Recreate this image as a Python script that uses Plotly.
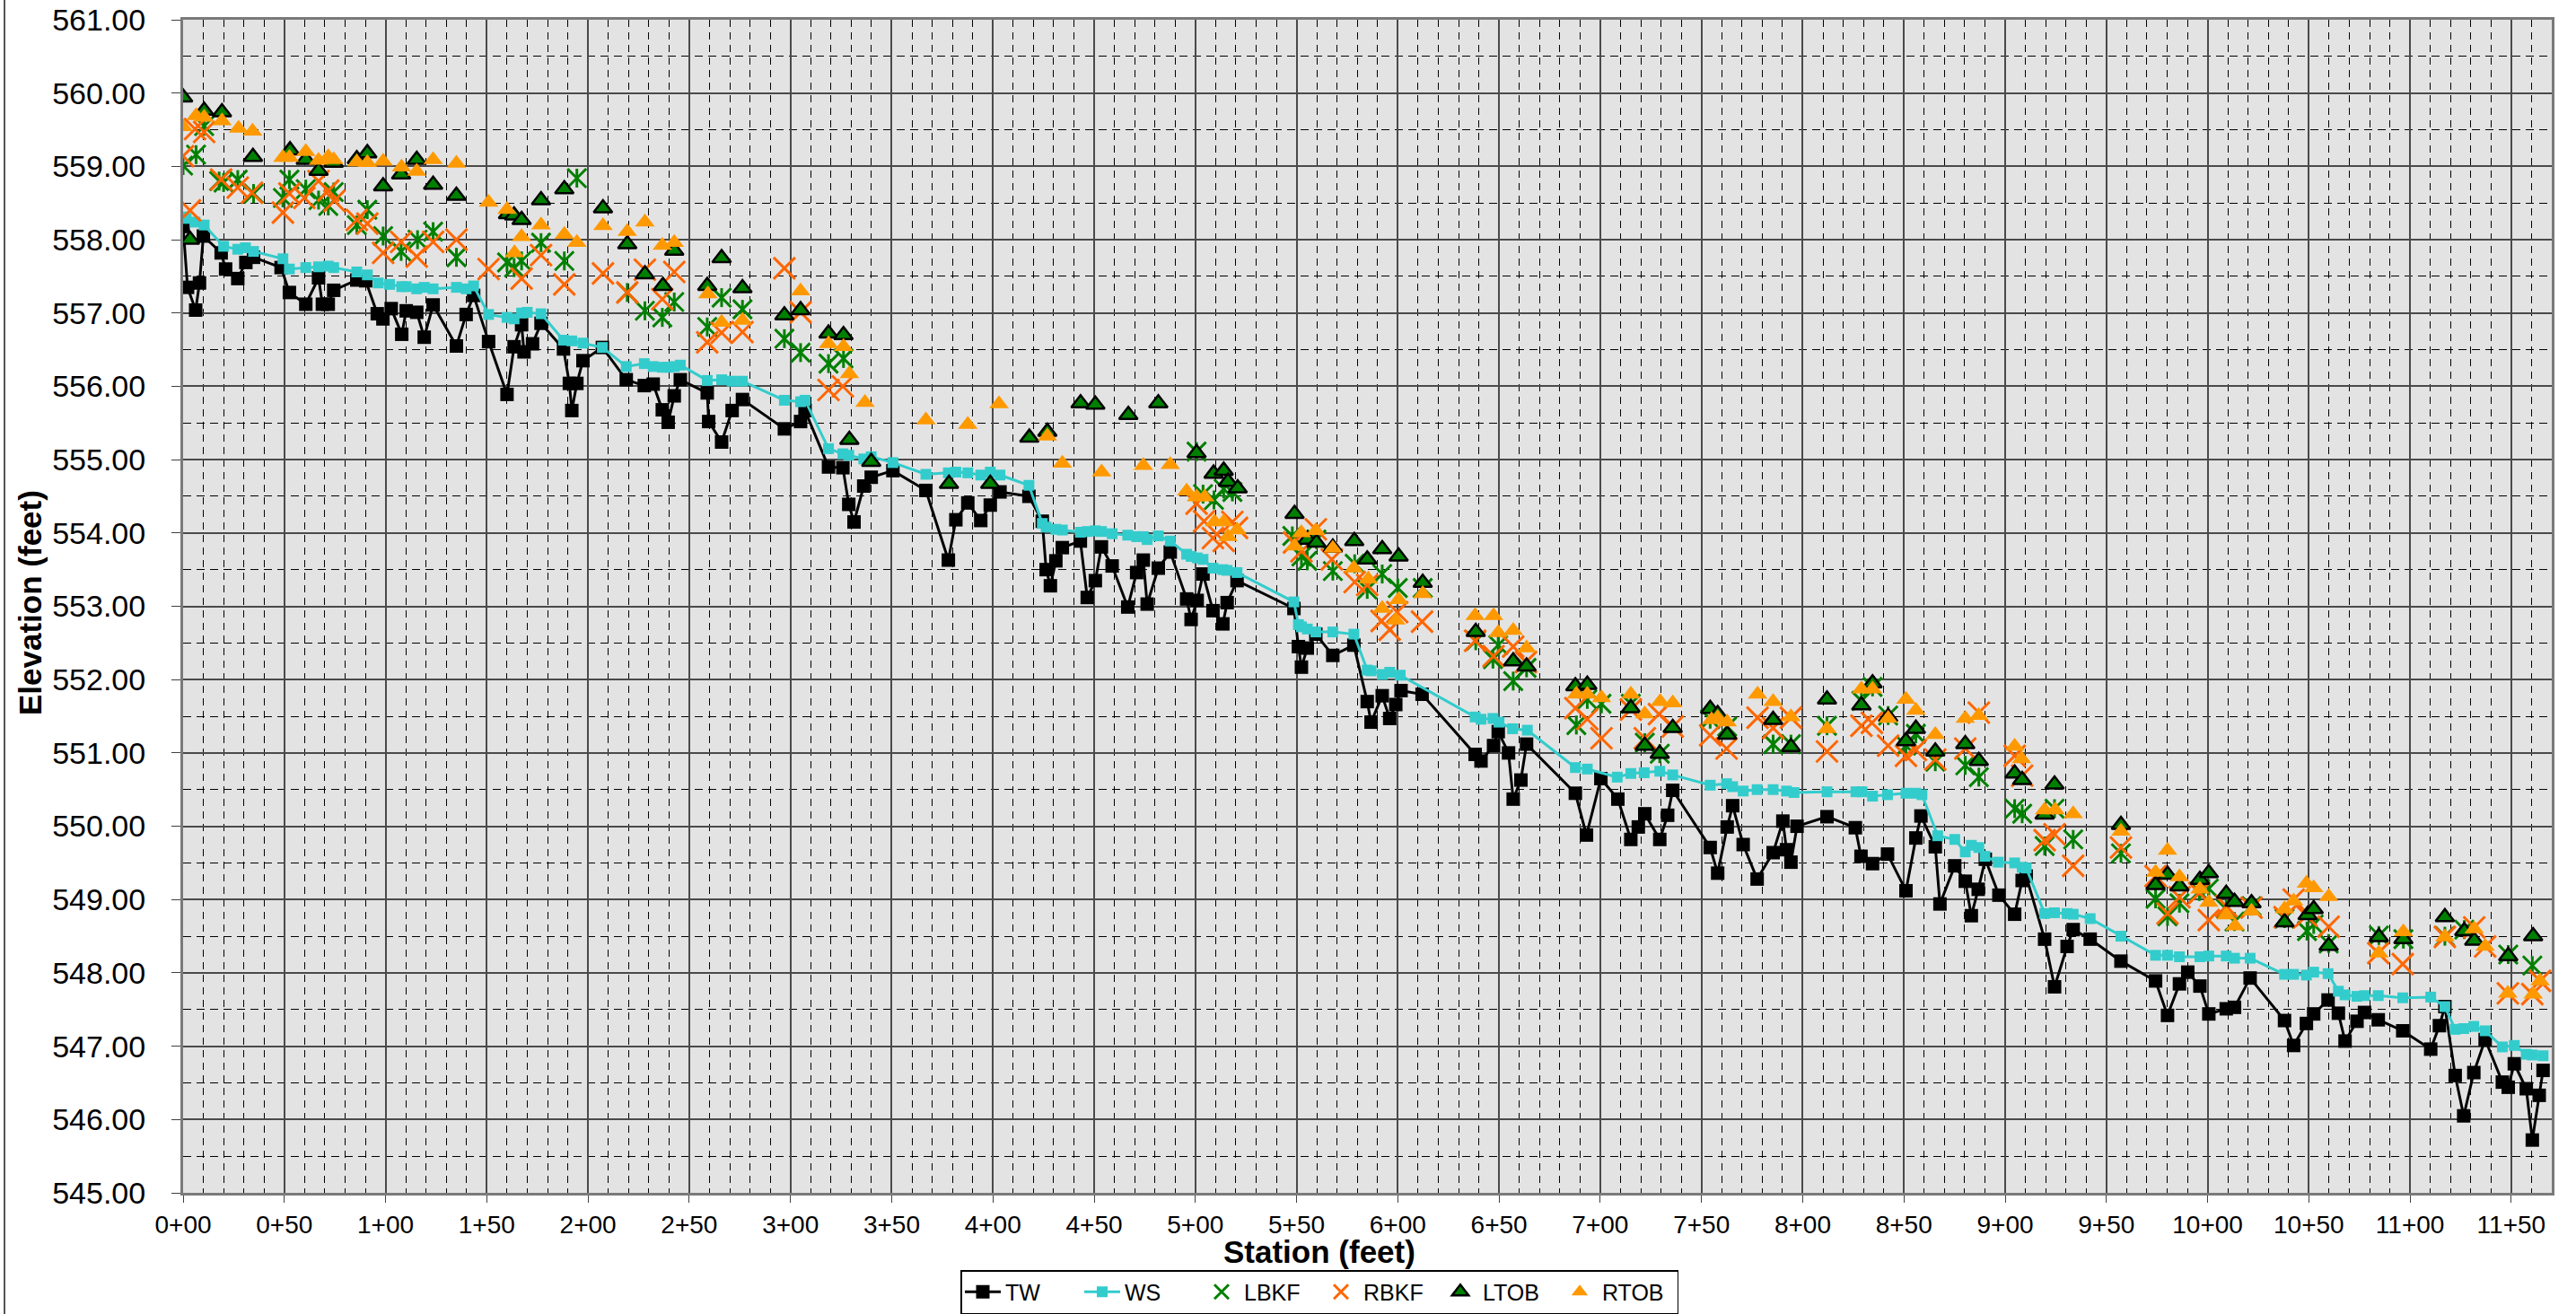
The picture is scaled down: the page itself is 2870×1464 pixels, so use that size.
import plotly.graph_objects as go

# ---------------- data (station in feet, elevation in feet) ----------------
tw_sta = [0, 2.2, 6.2, 8.1, 10, 18.8, 21, 27, 31, 34.8, 48.4, 52.5, 60.6, 66.9, 68.8, 71.7, 74.4, 85.8, 90.2, 95.9,
          98.7, 102.8, 108, 110.2, 115.4, 119.1, 123.5, 135, 139.8, 143.5, 150.9, 160, 163.5, 167.2, 168.4, 172.6,
          176.8, 187.9, 190.8, 192, 194.5, 197.5, 207.1, 218.9, 227.8, 232.2, 236.7, 239.6, 242.6, 245.6, 258.9,
          259.6, 266, 271.2, 276.3, 297, 305, 307.2, 318.8, 325.9, 328.8, 331.4, 336.2, 339.9, 350.6, 366.9, 378,
          381.7, 387.6, 394, 398.7, 403.5, 417.8, 424.4, 426.3, 428.4, 431.1, 434.3, 443.2, 446.6, 450.6, 453.6,
          458.9, 466.6, 471, 474.3, 476.2, 481.7, 487.6, 495.7, 497.9, 500.9, 503.8, 508.7, 513.6, 515.7, 520.6,
          548.7, 550.9, 552.4, 555.3, 559.5, 567.9, 578.3, 584.9, 586.8, 592.3, 596, 599, 601.6, 612, 638.2, 641.1,
          647.3, 649.6, 654.7, 657, 660.8, 663.6, 687.7, 693.2, 700.3, 708.7, 715.1, 718.8, 722, 729.4, 733.3,
          735.8, 754.3, 758, 762.7, 765.4, 770.6, 777.5, 785.4, 790.2, 792, 794.2, 797.2, 812, 826, 828.8, 834.5,
          841.9, 851, 855.9, 858.4, 865.5, 867.8, 875.1, 880.3, 883.3, 886.7, 890.2, 896.9, 904.7, 908.4, 910.4,
          919.5, 924.4, 930.6, 933.6, 942, 957.2, 974.3, 980.2, 986.1, 990.2, 996.2, 1000.6, 1009.2, 1013.3, 1021,
          1038, 1042.5, 1048.8, 1052.4, 1059.5, 1064.6, 1067.9, 1073.8, 1077.5, 1084.3, 1096.4, 1110.2, 1114.5,
          1117.2, 1122.3, 1126.5, 1131.5, 1137.1, 1145.6, 1148.5, 1151.5, 1157.4, 1160.4, 1163.8, 1165.7]
tw_elev = [558.18, 557.35, 557.04, 557.41, 558.05, 557.82, 557.60, 557.47, 557.69, 557.76, 557.62, 557.28, 557.12,
           557.48, 557.12, 557.12, 557.31, 557.45, 557.44, 556.99, 556.92, 557.06, 556.71, 557.03, 557.01, 556.67,
           557.11, 556.55, 556.98, 557.24, 556.61, 555.89, 556.54, 556.84, 556.47, 556.58, 556.86, 556.51, 556.04,
           555.67, 556.04, 556.35, 556.53, 556.09, 556.01, 556.03, 555.68, 555.51, 555.87, 556.09, 555.91, 555.52,
           555.24, 555.67, 555.82, 555.42, 555.52, 555.67, 554.90, 554.89, 554.39, 554.15, 554.64, 554.76, 554.85,
           554.58, 553.63, 554.18, 554.41, 554.17, 554.38, 554.56, 554.50, 554.16, 553.50, 553.28, 553.62, 553.80,
           553.89, 553.12, 553.35, 553.81, 553.55, 552.99, 553.46, 553.63, 553.03, 553.52, 553.74, 553.10, 552.82,
           553.08, 553.44, 552.94, 552.76, 553.05, 553.35, 552.97, 552.45, 552.17, 552.43, 552.62, 552.33, 552.47,
           551.70, 551.42, 551.78, 551.47, 551.66, 551.85, 551.80, 550.98, 550.89, 551.10, 551.29, 551.00, 550.37,
           550.63, 551.12, 550.45, 549.88, 550.65, 550.37, 549.82, 549.99, 550.17, 549.82, 550.15, 550.49, 549.71,
           549.36, 549.99, 550.28, 549.75, 549.28, 549.64, 550.07, 549.68, 549.51, 550.00, 550.13, 549.98, 549.59,
           549.49, 549.62, 549.12, 549.84, 550.14, 549.72, 548.94, 549.46, 549.25, 548.78, 549.14, 549.55, 549.06,
           548.80, 549.26, 549.32, 548.46, 547.81, 548.36, 548.59, 548.46, 548.16, 547.89, 547.42, 547.85, 548.01,
           547.82, 547.44, 547.51, 547.53, 547.93, 547.35, 547.01, 547.31, 547.44, 547.63, 547.45, 547.07, 547.34,
           547.46, 547.36, 547.21, 546.96, 547.28, 547.54, 546.60, 546.05, 546.64, 547.09, 546.51, 546.44, 546.76,
           546.42, 545.72, 546.33, 546.67]

ws_sta = [0, 1.5, 5.9, 10.4, 20, 27, 30.8, 34.8, 49.3, 52.5, 60.6, 66.9, 71.7, 74.4, 85.8, 91, 96.4, 102, 108, 110.2,
          115.4, 119.1, 123.5, 135, 139.8, 143.5, 150.9, 160, 163.5, 167.2, 170, 176.8, 187.9, 192, 197.5, 207.1,
          218.9, 227.8, 232.2, 236.7, 239.6, 242.6, 245.6, 258.9, 266, 271.2, 276.3, 297, 305, 307.2, 318.8, 325.9,
          328.8, 336.2, 339.9, 350.6, 366.9, 378, 381.7, 387.6, 394, 398.7, 403.5, 417.8, 424.4, 426.3, 431.1,
          434.3, 443.2, 446.6, 450.6, 453.6, 458.9, 466.6, 471, 474.3, 476.2, 481.7, 487.6, 495.7, 497.9, 500.9,
          503.8, 508.7, 513.6, 515.7, 520.6, 548.7, 550.9, 552.4, 555.3, 559.5, 567.9, 578.3, 584.9, 586.8, 592.3,
          596, 601.2, 638.2, 641.1, 647, 650, 656.7, 664, 687.7, 693.6, 708.4, 715.1, 721.7, 729.4, 735.8, 754.3,
          762.4, 765.4, 770.6, 777.5, 785.4, 792, 795.7, 812, 826.3, 829.3, 834.5, 841.9, 851, 855.9, 858.9, 866.7,
          875.1, 880.3, 883.3, 887, 890, 896.6, 904.7, 908.4, 910.4, 919.5, 924.4, 930.6, 933.6, 942, 957.2, 974.3,
          980.2, 986.1, 996.2, 1000.6, 1009.2, 1013.3, 1021, 1038, 1042.5, 1048.8, 1052.4, 1059.5, 1064.6, 1067.9,
          1073.8, 1077.5, 1084.3, 1096.4, 1110.2, 1117.2, 1122.3, 1126.5, 1131.5, 1137.1, 1145.6, 1151.5, 1157.4,
          1160.4, 1165.7]
ws_elev = [558.31, 558.29, 558.24, 558.20, 557.91, 557.87, 557.89, 557.84, 557.74, 557.60, 557.62, 557.63, 557.64,
           557.62, 557.56, 557.52, 557.41, 557.39, 557.36, 557.36, 557.33, 557.35, 557.33, 557.35, 557.33, 557.37,
           556.98, 556.94, 556.92, 557.00, 557.01, 556.99, 556.63, 556.62, 556.59, 556.53, 556.27, 556.31, 556.27,
           556.26, 556.26, 556.27, 556.29, 556.08, 556.09, 556.07, 556.07, 555.81, 555.79, 555.81, 555.15, 555.08,
           555.06, 555.01, 555.04, 554.96, 554.80, 554.82, 554.83, 554.82, 554.79, 554.83, 554.79, 554.65, 554.13,
           554.08, 554.05, 554.04, 554.01, 554.02, 554.03, 554.02, 553.99, 553.97, 553.95, 553.95, 553.91, 553.96,
           553.89, 553.71, 553.68, 553.66, 553.64, 553.52, 553.50, 553.49, 553.46, 553.06, 552.75, 552.72, 552.69,
           552.65, 552.65, 552.62, 552.13, 552.12, 552.07, 552.10, 552.06, 551.49, 551.46, 551.47, 551.42, 551.33,
           551.31, 550.80, 550.78, 550.67, 550.72, 550.73, 550.75, 550.70, 550.56, 550.58, 550.54, 550.48, 550.50,
           550.50, 550.48, 550.46, 550.47, 550.47, 550.47, 550.41, 550.43, 550.45, 550.45, 550.43, 549.87, 549.82,
           549.65, 549.74, 549.71, 549.59, 549.51, 549.50, 549.44, 549.43, 548.81, 548.82, 548.81, 548.80, 548.74,
           548.50, 548.24, 548.24, 548.22, 548.22, 548.23, 548.23, 548.20, 548.20, 547.98, 547.98, 547.97, 548.01,
           547.99, 547.75, 547.70, 547.68, 547.69, 547.69, 547.66, 547.67, 547.54, 547.23, 547.24, 547.27, 547.21,
           546.99, 547.01, 546.89, 546.88, 546.87]

lbkf_sta = [0, 6.4, 10.4, 17.8, 20, 27, 34.8, 49.3, 52.5, 60.6, 66.9, 71.7, 74.4, 85.8, 91, 98.8, 107.7, 115.8, 123.5,
            135, 160, 163.5, 167.2, 176.8, 188.3, 194.5, 219.4, 228.1, 236.7, 242.6, 258.9, 266, 276.3, 297, 305,
            318.8, 326.2, 500.6, 503.8, 509.2, 514, 518.3, 547.9, 552.4, 555.3, 559.8, 567.9, 578.7, 584.9, 592.3,
            600, 612.3, 638.5, 647, 649.6, 657, 663.6, 688.2, 693.6, 700.6, 715.1, 722, 729.4, 754.3, 762.7, 785.4,
            794.2, 812, 829, 834.5, 842.2, 851, 855.9, 865.5, 880.3, 887, 904.7, 908.4, 919.5, 924.4, 933.6, 957.2,
            974.3, 980.2, 986.1, 995.9, 1000.6, 1009.2, 1013.3, 1021.7, 1038, 1049.1, 1052.4, 1059.8, 1084.6,
            1096.7, 1117.2, 1126.8, 1148.5, 1160.4]
lbkf_elev = [559.01, 559.16, 559.55, 558.80, 558.78, 558.82, 558.63, 558.57, 558.82, 558.69, 558.54, 558.46, 558.65,
             558.20, 558.41, 558.05, 557.84, 558.00, 558.11, 557.76, 557.69, 557.62, 557.71, 557.96, 557.71, 558.84,
             557.28, 557.03, 556.94, 557.15, 556.81, 557.21, 557.05, 556.65, 556.46, 556.31, 556.38, 555.11, 554.53,
             554.45, 554.60, 554.56, 553.96, 553.68, 553.62, 553.91, 553.48, 553.58, 553.23, 553.44, 553.25, 553.25,
             552.53, 552.28, 552.47, 551.98, 552.16, 551.38, 551.73, 551.67, 551.67, 551.14, 550.99, 551.46, 551.36,
             551.12, 551.12, 551.37, 551.71, 551.90, 551.51, 551.10, 551.26, 550.88, 550.83, 550.67, 550.24, 550.17,
             549.73, 550.24, 549.82, 549.63, 549.01, 548.77, 548.95, 549.11, 549.15, 548.87, 548.70, 548.91, 548.74,
             548.57, 548.66, 548.40, 548.51, 548.46, 548.50, 548.59, 548.25, 548.10]

rbkf_sta = [0, 3.4, 5.9, 10.4, 18.8, 27, 34, 49.3, 52.5, 59.9, 66.9, 71.7, 74.7, 85.8, 91, 98.8, 107.7, 115.4, 123.5,
            135, 150.9, 167.2, 176.8, 188.3, 207.4, 219.4, 228.1, 236.7, 242.6, 258.9, 266, 276.3, 297, 305, 318.8,
            325.9, 500.6, 504.3, 508.7, 514, 518.3, 520.6, 548.7, 552.4, 559.5, 567.4, 578.7, 584.9, 592, 596, 599.7,
            612, 638.2, 647.3, 657, 663.3, 687.7, 693.6, 700.6, 715.1, 722, 729, 735.8, 754.3, 762.4, 777.7, 785.4,
            794.2, 812, 829, 834.2, 842.2, 851, 855.9, 865.5, 880.3, 887, 904.7, 908.4, 919.5, 924.4, 933.6, 957.2,
            974.3, 980.2, 986.1, 995.9, 1000.6, 1009.2, 1021.7, 1038, 1042.5, 1048.8, 1059.8, 1084.3, 1096.4,
            1117.2, 1131.7, 1137.1, 1148.3, 1160.4, 1164.2]
rbkf_elev = [559.14, 558.40, 559.51, 559.47, 558.82, 558.71, 558.64, 558.37, 558.63, 558.57, 558.80, 558.67, 558.53,
             558.27, 558.22, 557.82, 557.97, 557.77, 557.97, 558.00, 557.60, 557.47, 557.79, 557.39, 557.54, 557.28,
             557.59, 557.19, 557.56, 556.60, 556.73, 556.74, 557.61, 557.01, 555.95, 556.00, 554.40, 554.16, 553.93,
             553.89, 554.15, 554.07, 553.87, 553.75, 554.05, 553.64, 553.33, 553.29, 552.80, 552.68, 552.92, 552.79,
             552.53, 552.32, 552.45, 552.24, 551.61, 551.46, 551.20, 551.59, 551.20, 551.53, 551.36, 551.24, 551.06,
             551.48, 551.34, 551.48, 551.02, 551.37, 551.41, 551.10, 550.96, 551.04, 550.91, 551.06, 551.55, 550.96,
             550.69, 549.81, 549.89, 549.46, 549.71, 549.32, 548.81, 549.03, 549.09, 548.72, 548.91, 548.89, 548.76,
             549.00, 548.78, 548.63, 548.27, 548.12, 548.49, 548.62, 548.36, 547.72, 547.71, 547.89]

ltob_sta = [0, 3.4, 10.4, 19.2, 34.5, 52.8, 60.6, 66.9, 74.4, 85.8, 91, 98.8, 107.7, 115.4, 123.5, 135, 160.5, 163.5,
            167.2, 176.8, 188.3, 207.4, 219.4, 228.1, 237, 242.6, 258.9, 266, 276.3, 297, 305, 318.8, 326.2, 329.1,
            339.9, 378.3, 398.7, 418, 426.9, 443.3, 450.6, 466.9, 481.7, 500.6, 509, 514, 516.1, 520.9, 549, 555.3,
            559.8, 567.9, 578.5, 584.9, 592.3, 600.4, 612.3, 638.5, 657, 663.6, 687.7, 693.6, 715.1, 722, 729.4,
            735.8, 754.3, 758, 762.7, 785.4, 794.2, 812, 829, 834.5, 842.2, 851, 855.9, 865.5, 880.3, 887, 904.7,
            908.4, 919.5, 924.4, 957.2, 974.3, 980.2, 986.1, 996.2, 1000.6, 1009.2, 1013.3, 1021.7, 1038, 1049.4,
            1052.4, 1059.8, 1084.6, 1096.7, 1117.2, 1126.8, 1131.7, 1148.5, 1160.8]
ltob_elev = [559.94, 558.00, 559.76, 559.74, 559.13, 559.22, 559.09, 558.94, 559.05, 559.10, 559.18, 558.73, 558.89,
             559.09, 558.75, 558.60, 558.35, 558.33, 558.27, 558.54, 558.69, 558.43, 557.94, 557.53, 557.37, 557.85,
             557.37, 557.75, 557.34, 556.97, 557.04, 556.72, 556.70, 555.27, 554.97, 554.67, 554.67, 555.30, 555.38,
             555.77, 555.75, 555.61, 555.77, 555.09, 554.81, 554.85, 554.70, 554.61, 554.26, 553.91, 553.87, 553.80,
             553.89, 553.64, 553.78, 553.68, 553.32, 552.65, 552.25, 552.18, 551.91, 551.93, 551.61, 551.10, 550.99,
             551.34, 551.60, 551.53, 551.25, 551.45, 551.08, 551.73, 551.65, 551.95, 551.49, 551.16, 551.33, 551.02,
             551.12, 550.89, 550.72, 550.63, 550.16, 550.57, 550.02, 549.20, 549.34, 549.18, 549.27, 549.36, 549.08,
             548.97, 548.95, 548.69, 548.79, 548.87, 548.37, 548.49, 548.46, 548.76, 548.57, 548.44, 548.23, 548.50]

rtob_sta = [0, 6.4, 10.4, 19.2, 27.4, 34.3, 49.3, 52.5, 60.6, 66.9, 71.7, 74.4, 85.8, 91, 98.8, 107.9, 115.4, 123.5,
            135, 150.9, 160, 163.7, 167.2, 176.8, 188.3, 194.5, 207.4, 219.4, 228.1, 236.7, 242.6, 259.2, 266, 276.3,
            305, 318.8, 326.2, 329.1, 336.8, 366.9, 387.6, 403, 426.9, 434.3, 453.7, 474.3, 487.6, 495.7, 500.6,
            504.6, 509.5, 514, 516.1, 520.6, 549, 552.4, 559.5, 567.9, 578.3, 585.4, 592.3, 599, 600.4, 612.3, 638.2,
            647.3, 649.6, 657, 663.6, 688.2, 693.6, 700.6, 715.1, 722, 729.6, 735.8, 755, 758, 762.7, 777.7, 785.4,
            794.2, 812, 829, 834.5, 842.2, 851, 855.9, 865.5, 880.3, 887, 904.7, 908.1, 919.5, 924.7, 933.6, 957.2,
            974.3, 980.2, 986.1, 996.2, 1000.6, 1009.2, 1013.6, 1021.7, 1038, 1042.5, 1048.8, 1052.4, 1059.8,
            1084.6, 1096.7, 1117.2, 1131.7, 1137.1, 1148.3, 1160.8, 1164.2]
rtob_elev = [559.54, 559.69, 559.67, 559.62, 559.52, 559.48, 559.12, 559.12, 559.20, 559.08, 559.13, 559.09, 559.06,
             559.05, 559.07, 558.99, 558.93, 559.09, 559.04, 558.51, 558.41, 557.82, 558.04, 558.20, 558.07, 557.96,
             558.19, 558.11, 558.24, 557.92, 557.96, 557.26, 556.87, 556.90, 557.30, 556.58, 556.54, 556.17, 555.78,
             555.54, 555.48, 555.76, 555.32, 554.95, 554.83, 554.92, 554.93, 554.57, 554.49, 554.49, 554.15, 554.15,
             553.95, 554.04, 553.82, 554.00, 554.03, 553.79, 553.52, 553.37, 552.97, 552.81, 553.09, 553.17, 552.87,
             552.87, 552.64, 552.67, 552.43, 551.80, 551.80, 551.75, 551.80, 551.53, 551.70, 551.68, 551.45, 551.48,
             551.42, 551.80, 551.70, 551.49, 551.33, 551.87, 551.87, 551.47, 551.73, 551.58, 551.25, 551.47, 551.51,
             551.09, 550.92, 550.22, 550.22, 550.17, 549.93, 549.37, 549.67, 549.31, 549.14, 548.96, 548.79, 548.64,
             548.84, 548.87, 548.98, 549.22, 549.16, 549.04, 548.27, 548.56, 548.49, 548.60, 548.36, 547.72, 547.71,
             547.89]

x_tickvals = list(range(0, 1151, 50))
x_ticktext = ["%d+%02d" % (v // 100, v % 100) for v in x_tickvals]

# ---------------- figure ----------------
FONT = "Liberation Sans, Arial, sans-serif"
W, H = 2870, 1464
L, R, T, B = 204, 27, 22, 135
PW, PH = W - L - R, H - T - B


def px_x(p):
    return (p - L) / PW


def px_y(p):
    return (H - B - p) / PH


fig = go.Figure()
fig.add_trace(go.Scatter(x=tw_sta, y=tw_elev, name="TW", mode="lines+markers",
                         line=dict(color="black", width=3),
                         marker=dict(symbol="square", size=15, color="black")))
fig.add_trace(go.Scatter(x=ws_sta, y=ws_elev, name="WS", mode="lines+markers",
                         line=dict(color="#33CCCC", width=3),
                         marker=dict(symbol="square", size=12, color="#33CCCC")))
fig.add_trace(go.Scatter(x=lbkf_sta, y=lbkf_elev, name="LBKF", mode="markers", legendgroup="lbkf",
                         marker=dict(symbol="x-thin-open", size=21, color="#008000",
                                     line=dict(color="#008000", width=3))))
fig.add_trace(go.Scatter(x=lbkf_sta, y=lbkf_elev, name="LBKF", mode="markers", legendgroup="lbkf",
                         showlegend=False,
                         marker=dict(symbol="line-ns-open", size=15, color="#008000",
                                     line=dict(color="#008000", width=3))))
fig.add_trace(go.Scatter(x=rbkf_sta, y=rbkf_elev, name="RBKF", mode="markers",
                         marker=dict(symbol="x-thin-open", size=24, color="#FF6600",
                                     line=dict(color="#FF6600", width=3))))
fig.add_trace(go.Scatter(x=ltob_sta, y=ltob_elev, name="LTOB", mode="markers",
                         marker=dict(symbol="triangle-up", size=18, color="#008000",
                                     line=dict(color="black", width=2.5))))
fig.add_trace(go.Scatter(x=rtob_sta, y=rtob_elev, name="RTOB", mode="markers",
                         marker=dict(symbol="triangle-up", size=19, color="#FF9900",
                                     line=dict(width=0))))

fig.update_layout(
    width=W, height=H,
    margin=dict(l=L, r=R, t=T, b=B, autoexpand=False),
    paper_bgcolor="white", plot_bgcolor="#E3E3E3",
    font=dict(family=FONT, color="black"),
    showlegend=True,
    legend=dict(orientation="h", x=px_x(1470), xanchor="center", y=px_y(1464), yanchor="bottom",
                bordercolor="black", borderwidth=1.5, bgcolor="white",
                font=dict(size=25, family=FONT), itemwidth=40,
                entrywidth=78, entrywidthmode="pixels", tracegroupgap=0),
    xaxis=dict(range=[0, 1170], tickvals=x_tickvals, ticktext=x_ticktext,
               tickfont=dict(size=28), ticks="outside", ticklen=8, tickcolor="#404040",
               showgrid=True, gridcolor="#4a4a4a", gridwidth=1.5, zeroline=False,
               showline=True, linecolor="#7a7a7a", linewidth=3, mirror=True,
               minor=dict(dtick=10, tick0=0, showgrid=True, gridcolor="black", gridwidth=1,
                          griddash="8px,6px", ticks="")),
    yaxis=dict(range=[545, 561], dtick=1, tick0=545, tickformat=".2f",
               tickfont=dict(size=34), ticks="outside", ticklen=10, tickcolor="#404040",
               ticklabelstandoff=22,
               showgrid=True, gridcolor="#4a4a4a", gridwidth=1.5, zeroline=False,
               showline=True, linecolor="#7a7a7a", linewidth=3, mirror=True,
               minor=dict(dtick=0.5, tick0=545, showgrid=True, gridcolor="black", gridwidth=1,
                          griddash="9px,6px", ticks="")),
    annotations=[
        dict(text="<b>Station (feet)</b>", xref="paper", yref="paper", x=px_x(1470), y=px_y(1394),
             xanchor="center", yanchor="middle", showarrow=False, font=dict(size=35, family=FONT)),
        dict(text="<b>Elevation (feet)</b>", xref="paper", yref="paper", x=px_x(33), y=px_y(672),
             xanchor="center", yanchor="middle", textangle=-90, showarrow=False,
             font=dict(size=35, family=FONT)),
    ],
    shapes=[dict(type="line", xref="paper", yref="paper", x0=px_x(5), x1=px_x(5),
                 y0=px_y(H), y1=px_y(0), line=dict(color="#555555", width=2))],
)

fig.write_html("out.html", config={"displayModeBar": False},
               post_script="document.body.style.margin='0';document.body.style.overflow='hidden';")
